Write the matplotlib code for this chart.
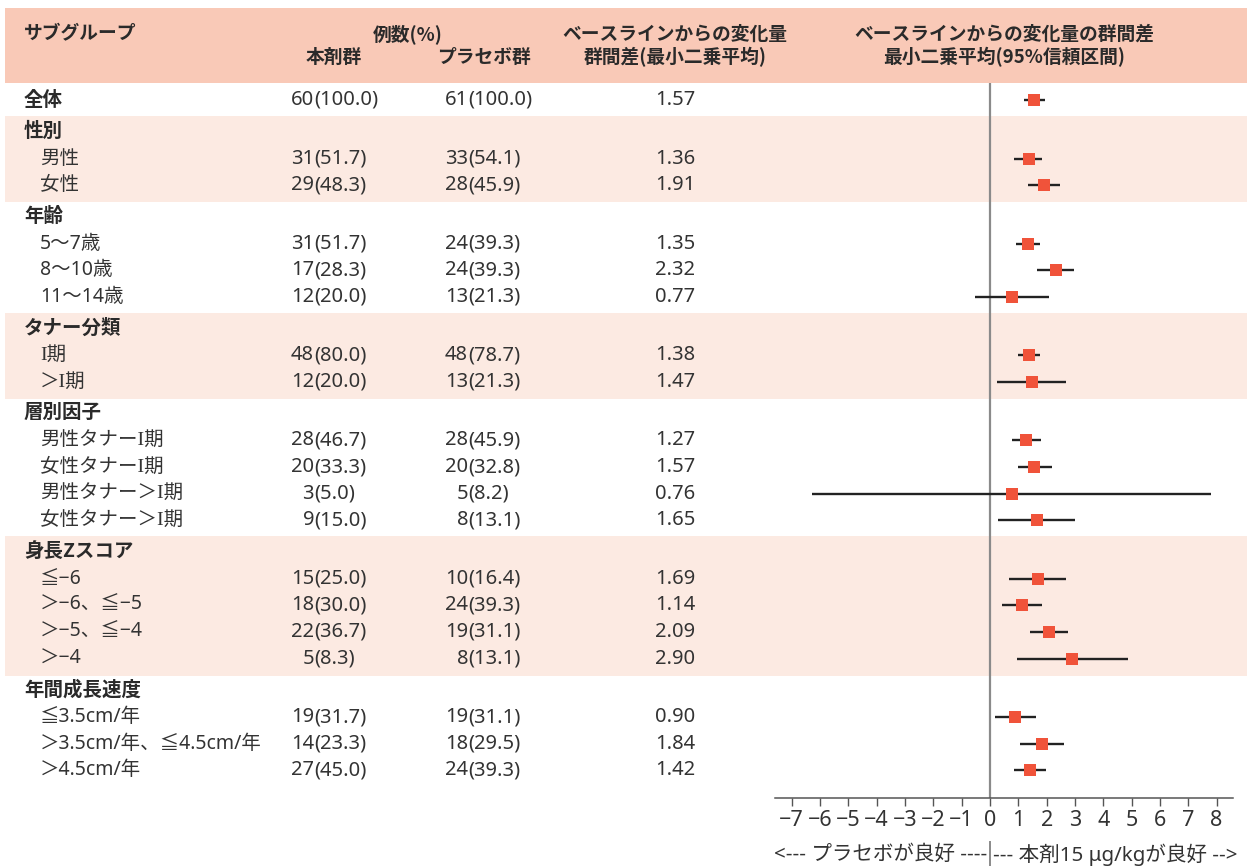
import matplotlib
matplotlib.use('Agg')
import matplotlib.pyplot as plt
from matplotlib.patches import Rectangle

plt.rcParams['font.family'] = ['Noto Sans', 'Noto Sans CJK JP', 'DejaVu Sans']
plt.rcParams['axes.unicode_minus'] = True

# データ
group_names = ['性別', '年齢', 'タナー分類', '層別因子', '身長Zスコア', '年間成長速度']
group_sizes = [2, 3, 2, 4, 4, 3]
subgroups = ['全体', '男性', '女性', '5〜7歳', '8〜10歳', '11〜14歳',
             'I期', '＞I期',
             '男性タナーI期', '女性タナーI期', '男性タナー＞I期', '女性タナー＞I期',
             '≦−6', '＞−6、≦−5', '＞−5、≦−4', '＞−4',
             '≦3.5cm/年', '＞3.5cm/年、≦4.5cm/年', '＞4.5cm/年']
n_drug = [60, 31, 29, 31, 17, 12, 48, 12, 28, 20, 3, 9, 15, 18, 22, 5, 19, 14, 27]
pct_drug = [100.0, 51.7, 48.3, 51.7, 28.3, 20.0, 80.0, 20.0, 46.7, 33.3, 5.0, 15.0,
            25.0, 30.0, 36.7, 8.3, 31.7, 23.3, 45.0]
n_pbo = [61, 33, 28, 24, 24, 13, 48, 13, 28, 20, 5, 8, 10, 24, 19, 8, 19, 18, 24]
pct_pbo = [100.0, 54.1, 45.9, 39.3, 39.3, 21.3, 78.7, 21.3, 45.9, 32.8, 8.2, 13.1,
           16.4, 39.3, 31.1, 13.1, 31.1, 29.5, 39.3]
ls_diff = [1.57, 1.36, 1.91, 1.35, 2.32, 0.77, 1.38, 1.47, 1.27, 1.57, 0.76, 1.65,
           1.69, 1.14, 2.09, 2.90, 0.90, 1.84, 1.42]
ci_lo = [1.20, 0.86, 1.35, 0.93, 1.66, -0.53, 0.98, 0.25, 0.77, 0.98, -6.27, 0.29,
         0.68, 0.41, 1.42, 0.95, 0.18, 1.06, 0.85]
ci_hi = [1.94, 1.85, 2.46, 1.78, 2.98, 2.08, 1.78, 2.68, 1.79, 2.18, 7.80, 2.99,
         2.67, 1.84, 2.75, 4.87, 1.62, 2.60, 1.97]
xticks = list(range(-7, 9))

HEAD = '#F9C9B7'
BAND = '#FCEAE2'
RED = '#F0533A'
TXT = '#2a2a2a'
FS = 13.5
SANS = ['Noto Sans', 'Noto Sans CJK JP', 'DejaVu Sans']
CJK = ['Noto Sans CJK JP', 'DejaVu Sans']
SERIF_I = ['Liberation Serif', 'Noto Sans CJK JP', 'DejaVu Sans']

fig = plt.figure(figsize=(12.47, 8.66), dpi=100)
ax = fig.add_axes([0, 0, 1, 1])
ax.set_xlim(0, 1247)
ax.set_ylim(866, 0)
ax.axis('off')

# ヘッダー
ax.add_patch(Rectangle((5, 8), 1242, 75, color=HEAD, lw=0))
hkw = dict(fontsize=FS, color=TXT, fontweight='bold', va='center', family=CJK)
ax.text(24, 34, 'サブグループ', ha='left', **hkw)
ax.text(408, 34, '例数(%)', ha='center', **hkw)
ax.text(334, 57, '本剤群', ha='center', **hkw)
ax.text(484, 57, 'プラセボ群', ha='center', **hkw)
ax.text(675, 34, 'ベースラインからの変化量', ha='center', **hkw)
ax.text(675, 57, '群間差(最小二乗平均)', ha='center', **hkw)
ax.text(1004, 34, 'ベースラインからの変化量の群間差', ha='center', **hkw)
ax.text(1004, 57, '最小二乗平均(95%信頼区間)', ha='center', **hkw)

# 行の位置
ys = [100]
heads = []
y = 100
for g, size in enumerate(group_sizes):
    y += 31
    heads.append(y)
    top = y - 15
    y += 27.5
    for i in range(size):
        if i:
            y += 26.6
        ys.append(y)
    if g % 2 == 0:
        ax.add_patch(Rectangle((5, top), 1242, y + 17 - top, color=BAND, lw=0, zorder=0))

gkw = dict(ha='left', va='center', fontsize=14, color=TXT, fontweight='bold', family=CJK)
ax.text(24, ys[0], subgroups[0], **gkw)
for name, hy in zip(group_names, heads):
    ax.text(24, hy, name, **gkw)

for i, yy in enumerate(ys):
    kw = dict(va='center', fontsize=14.5, color='#333333')
    if i > 0:
        fam = SERIF_I if 'I' in subgroups[i] else SANS
        ax.text(40, yy, subgroups[i], ha='left', va='center', fontsize=14,
                color='#333333', family=fam)
    ax.text(314, yy, str(n_drug[i]), ha='right', **kw)
    ax.text(314, yy, '(%.1f)' % pct_drug[i], ha='left', **kw)
    ax.text(468, yy, str(n_pbo[i]), ha='right', **kw)
    ax.text(468, yy, '(%.1f)' % pct_pbo[i], ha='left', **kw)
    ax.text(675, yy, '%.2f' % ls_diff[i], ha='center', **kw)

# フォレストプロット
x0, unit = 990, 28.33
ax2 = fig.add_axes([775 / 1247, (866 - 798) / 866, (1233 - 775) / 1247, (798 - 83) / 866])
ax2.patch.set_alpha(0)
ax2.set_xlim((775 - x0) / unit, (1233 - x0) / unit)
ax2.set_ylim(798, 83)
ax2.axvline(0, color='#8a8a8a', lw=1.6, zorder=1)
ax2.hlines(ys, ci_lo, ci_hi, color='#222222', lw=1.7, zorder=2)
ax2.plot(ls_diff, ys, 's', color=RED, ms=8.8, mew=0, zorder=3)
for s in ['left', 'right', 'top']:
    ax2.spines[s].set_visible(False)
ax2.spines['bottom'].set_color('#555555')
ax2.spines['bottom'].set_linewidth(1.1)
ax2.set_yticks([])
ax2.set_xticks(xticks)
ax2.tick_params(axis='x', direction='out', length=5.5, width=1, color='#555555',
                labelsize=15.5, labelcolor='#333333', pad=3)

ax2.plot([0, 0], [842, 866], color='#8a8a8a', lw=1.4, clip_on=False)
ax2.text(-0.1, 855, '<--- プラセボが良好 ----', ha='right', va='center',
         fontsize=14.8, color='#333333', clip_on=False)
ax2.text(0.1, 855, '--- 本剤15 μg/kgが良好 -->', ha='left', va='center',
         fontsize=14.8, color='#333333', clip_on=False)

fig.savefig('out.png', dpi=100)
